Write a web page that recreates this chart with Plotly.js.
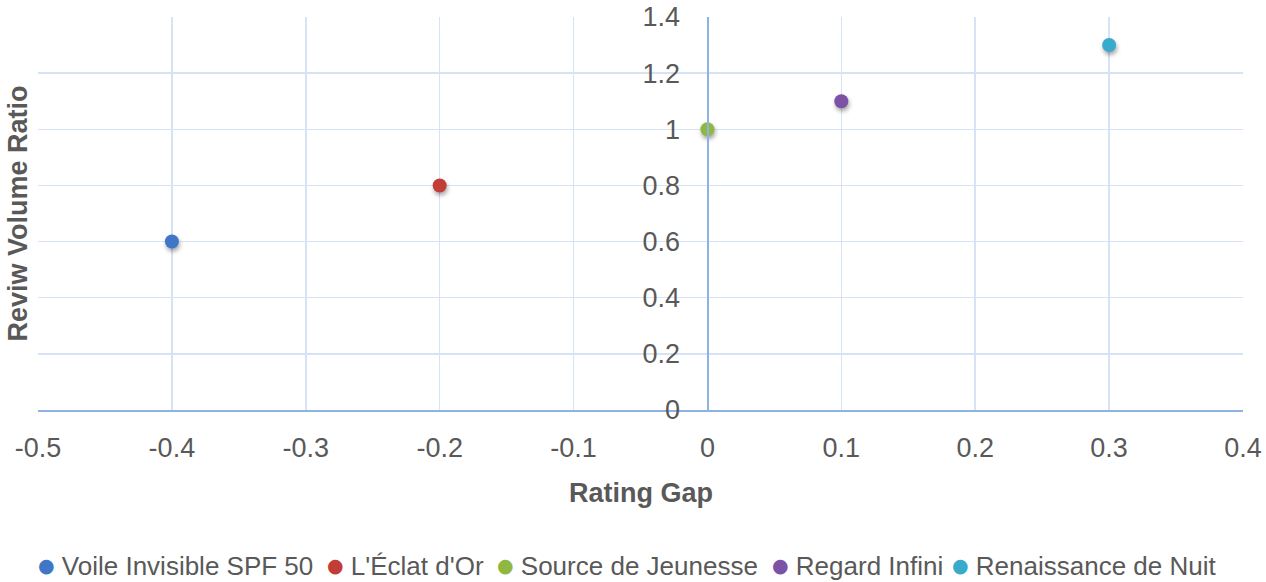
<!DOCTYPE html>
<html>
<head>
<meta charset="utf-8">
<script src="https://cdn.plot.ly/plotly-3.0.1.min.js"></script>
<style>
html,body{margin:0;padding:0;background:#fff;}
#chart{width:1266px;height:582px;}
.scatterlayer .point{filter:drop-shadow(1px 3px 2px rgba(0,0,0,0.35));}
</style>
</head>
<body>
<div id="chart"></div>
<script>
const products = ["Voile Invisible SPF 50", "L'Éclat d'Or", "Source de Jeunesse", "Regard Infini", "Renaissance de Nuit"];
const ratingGap = [-0.4, -0.2, 0, 0.1, 0.3];
const reviewVolumeRatio = [0.6, 0.8, 1.0, 1.1, 1.3];
const colors = ["#3F77C6", "#C33D37", "#8FB843", "#7B52A5", "#38AACB"];
const xTicks = [-0.5, -0.4, -0.3, -0.2, -0.1, 0, 0.1, 0.2, 0.3, 0.4];
const yTicks = [0, 0.2, 0.4, 0.6, 0.8, 1, 1.2, 1.4];

const FONT = "'Liberation Sans', Arial, sans-serif";
const traces = products.map((p, i) => ({
  type: 'scatter', mode: 'markers', name: p,
  x: [ratingGap[i]], y: [reviewVolumeRatio[i]],
  marker: {color: colors[i], size: 14, line: {width: 0}},
  cliponaxis: false, showlegend: false
}));

const xmin = -0.5, xmax = 0.4;
const W = 1266, ML = 38, MR = 23, MT = 17, MB = 172;
const plotW = W - ML - MR, plotH = 582 - MT - MB;

// legend entries laid out as annotations (left pixel edge of each marker)
const legendLeftPx = [37, 326, 496, 771, 951];
const legendCenterPy = 566;
const legendAnn = products.map((p, i) => ({
  text: '<span style="color:' + colors[i] + ';font-size:19px;font-family:DejaVu Sans;baseline-shift:3px">●</span> ' + p,
  xref: 'paper', yref: 'paper',
  x: (legendLeftPx[i] - ML) / plotW, y: -(legendCenterPy - (MT + plotH)) / plotH,
  xanchor: 'left', yanchor: 'middle', showarrow: false, borderpad: 0,
  font: {size: 26, color: '#595959', family: FONT}
}));

const layout = {
  width: W, height: 582,
  margin: {l: ML, r: MR, t: MT, b: MB, autoexpand: false},
  paper_bgcolor: '#ffffff', plot_bgcolor: '#ffffff',
  font: {family: FONT, color: '#595959', size: 26},
  showlegend: false,
  xaxis: {
    range: [xmin, xmax], tickvals: xTicks, ticktext: xTicks.map(String),
    showgrid: true, gridcolor: '#D6E3F4', gridwidth: 1.5,
    zeroline: false, showline: true, linecolor: '#8DB3E2', linewidth: 1.5,
    ticks: '', ticklabelstandoff: 13,
    tickfont: {size: 27, color: '#595959', family: FONT},
    fixedrange: true
  },
  yaxis: {
    range: [0, 1.4], tickvals: yTicks, ticktext: yTicks.map(String),
    anchor: 'free', position: (0 - xmin) / (xmax - xmin),
    showgrid: true, gridcolor: '#D6E3F4', gridwidth: 1.5,
    zeroline: false, showline: true, linecolor: '#8DB3E2', linewidth: 1.5,
    ticks: '', ticklabelstandoff: 22,
    tickfont: {size: 27, color: '#595959', family: FONT},
    fixedrange: true
  },
  annotations: [{
    text: '<b>Reviw Volume Ratio</b>', xref: 'paper', yref: 'paper',
    x: -0.0166, y: 0.5, xanchor: 'center', yanchor: 'middle', textangle: -90,
    showarrow: false, font: {size: 27, color: '#595959', family: FONT}
  }, {
    text: '<b>Rating Gap</b>', xref: 'paper', yref: 'paper',
    x: 0.5, y: -0.21, xanchor: 'center', yanchor: 'middle',
    showarrow: false, font: {size: 27, color: '#595959', family: FONT}
  }].concat(legendAnn)
};

Plotly.newPlot('chart', traces, layout, {displayModeBar: false, staticPlot: true});
</script>
</body>
</html>
